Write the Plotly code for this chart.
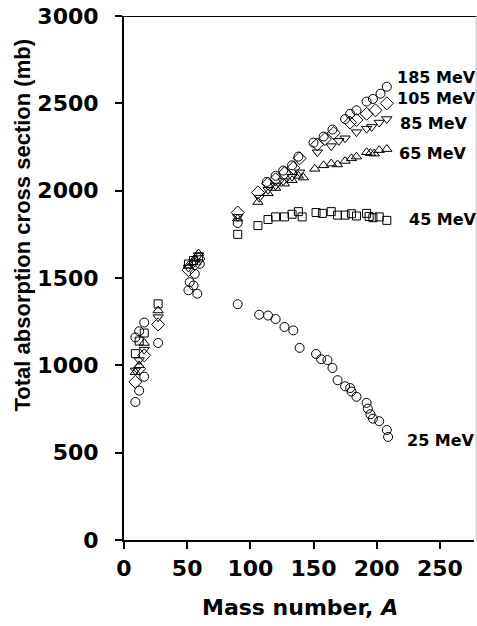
import plotly.graph_objects as go

# ---- data ----
A_25 = [9, 12, 16, 27, 51, 55, 58, 90, 107, 114, 120, 127, 134, 139, 152, 156, 161, 165, 169, 175, 179, 180, 184, 192, 193, 195, 197, 202, 208, 209]
S_25 = [1160, 1195, 1245, 1128, 1430, 1457, 1410, 1350, 1290, 1285, 1265, 1220, 1200, 1100, 1065, 1035, 1030, 985, 915, 880, 870, 850, 820, 785, 752, 720, 695, 680, 630, 590]

A_45 = [9, 12, 16, 27, 51, 55, 59, 90, 106, 114, 120, 127, 133, 138, 141, 152, 157, 164, 169, 175, 180, 184, 192, 194, 197, 202, 208]
S_45 = [1067, 1139, 1185, 1352, 1580, 1600, 1620, 1750, 1800, 1835, 1850, 1850, 1865, 1880, 1850, 1875, 1870, 1880, 1860, 1860, 1868, 1855, 1870, 1852, 1845, 1850, 1830]

A_65 = [9, 12, 16, 27, 51, 56, 59, 90, 106, 114, 120, 127, 133, 138, 142, 151, 158, 164, 169, 175, 180, 184, 192, 195, 198, 202, 208]
S_65 = [960, 1000, 1128, 1314, 1570, 1610, 1640, 1840, 1935, 1985, 2015, 2040, 2060, 2085, 2075, 2125, 2145, 2155, 2150, 2170, 2185, 2195, 2220, 2215, 2212, 2232, 2238]

A_85 = [9, 12, 16, 27, 51, 56, 59, 90, 107, 114, 120, 126, 133, 139, 153, 164, 170, 175, 184, 192, 196, 202, 208]
S_85 = [971, 1030, 1090, 1276, 1560, 1590, 1630, 1850, 1960, 2005, 2030, 2055, 2080, 2105, 2220, 2255, 2285, 2300, 2335, 2355, 2365, 2390, 2410]

A_105 = [9, 12, 16, 27, 51, 56, 59, 90, 106, 114, 120, 127, 134, 139, 153, 159, 166, 179, 184, 192, 199, 208]
S_105 = [905, 980, 1057, 1234, 1545, 1580, 1610, 1875, 1990, 2040, 2065, 2100, 2130, 2185, 2265, 2295, 2330, 2390, 2405, 2440, 2460, 2500]

A_185 = [9, 12, 16, 52, 56, 60, 90, 113, 120, 126, 133, 138, 150, 158, 165, 175, 179, 184, 192, 197, 203, 208]
S_185 = [790, 855, 935, 1476, 1524, 1581, 1815, 2050, 2085, 2115, 2145, 2195, 2275, 2310, 2350, 2410, 2440, 2460, 2510, 2525, 2555, 2595]

series_labels = ["25 MeV", "45 MeV", "65 MeV", "85 MeV", "105 MeV", "185 MeV"]
x_ticks = [0, 50, 100, 150, 200, 250]
y_ticks = [0, 500, 1000, 1500, 2000, 2500, 3000]

# ---- styling ----
series = [
    (A_25, S_25, "circle-open", 9),
    (A_45, S_45, "square-open", 8),
    (A_65, S_65, "triangle-up-open", 9),
    (A_85, S_85, "triangle-down-open", 9),
    (A_105, S_105, "diamond-open", 10),
    (A_185, S_185, "circle-open", 9),
]
label_pos = {  # (x, y) in data coords for the right-hand labels
    "185 MeV": (214.5, 2646),
    "105 MeV": (214.5, 2526),
    "85 MeV": (217, 2386),
    "65 MeV": (216.3, 2214),
    "45 MeV": (224, 1834),
    "25 MeV": (222.7, 571),
}

fig = go.Figure()
for (xs, ys, sym, sz), name in zip(series, series_labels):
    fig.add_trace(go.Scatter(
        x=xs, y=ys, mode="markers", name=name,
        marker=dict(symbol=sym, size=sz, color="black", line=dict(width=1, color="black")),
        showlegend=False,
    ))

for name in series_labels:
    x, y = label_pos[name]
    fig.add_annotation(x=x, y=y, xref="x", yref="y", text=name, showarrow=False,
                       xanchor="left", yanchor="middle",
                       font=dict(family="DejaVu Sans", size=16, color="black", weight="bold"))

tickfont = dict(family="DejaVu Sans", size=22, color="black", weight="bold")
fig.update_xaxes(range=[0, 277], tickvals=x_ticks, ticks="outside", ticklen=7, tickwidth=1.5,
                 tickcolor="black", showline=True, linecolor="black", linewidth=2,
                 showgrid=False, zeroline=False, tickfont=tickfont, ticklabelstandoff=1)
fig.update_yaxes(range=[0, 3000], tickvals=y_ticks, ticks="outside", ticklen=7, tickwidth=1.5,
                 tickcolor="black", showline=True, linecolor="black", linewidth=2,
                 showgrid=False, zeroline=False, tickfont=tickfont, ticklabelstandoff=12)

# top frame line and faint right border
fig.add_shape(type="line", xref="paper", yref="y", x0=0, x1=1.01, y0=3000, y1=3000,
              line=dict(color="black", width=2))
fig.add_shape(type="line", xref="paper", yref="paper", x0=1.006, x1=1.006, y0=0, y1=1,
              line=dict(color="#bbbbbb", width=1))

# axis titles
fig.add_annotation(x=-0.289, y=0.6, xref="paper", yref="paper", textangle=-90,
                   text="Total absorption cross section (mb)", showarrow=False,
                   xanchor="center", yanchor="middle",
                   font=dict(family="Liberation Sans", size=22, color="black", weight="bold"))
fig.add_annotation(x=0.503, y=-0.128, xref="paper", yref="paper",
                   text="Mass number, <i>A</i>", showarrow=False,
                   xanchor="center", yanchor="middle",
                   font=dict(family="DejaVu Sans", size=22, color="black", weight="bold"))

fig.update_layout(width=477, height=626, margin=dict(l=124, r=3, t=16, b=86),
                  plot_bgcolor="white", paper_bgcolor="white")

fig.write_html("out.html")
